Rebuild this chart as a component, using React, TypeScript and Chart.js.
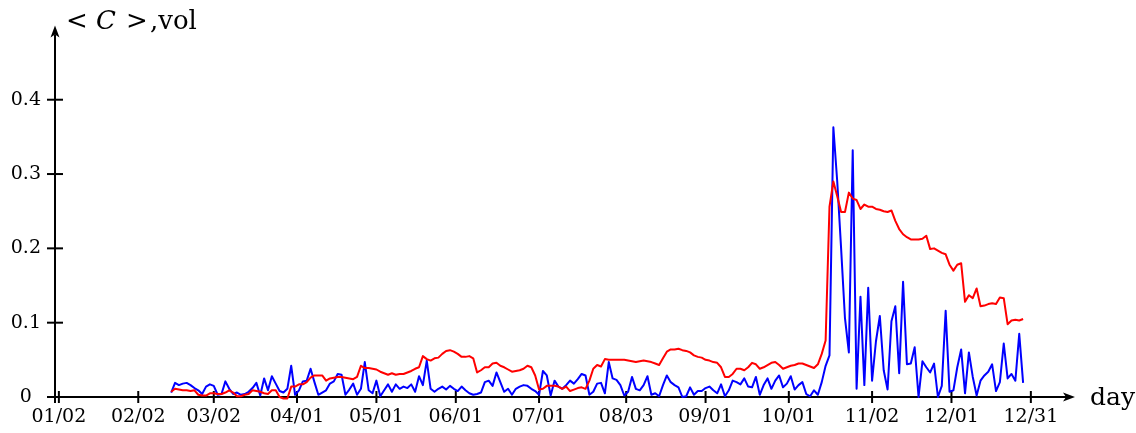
import React, { useEffect, useRef } from "react";
import { Chart, registerables } from "chart.js";

Chart.register(...registerables);

// first trading-day index (01/02 = 0) of the plotted series
const FIRST_DAY = 29;

// <C> (red)
const meanC = [
  0.007, 0.011, 0.010, 0.009, 0.009, 0.008, 0.009, 0.003, 0.002, 0.002, 0.005,
  0.005, 0.004, 0.004, 0.006, 0.009, 0.006, 0.001, 0.001, 0.003, 0.004,
  0.009, 0.008, 0.007, 0.005, 0.004, 0.009, 0.009, 0.000, -0.002, -0.002,
  0.014, 0.014, 0.017, 0.017, 0.020, 0.026, 0.029, 0.029, 0.029, 0.022,
  0.025, 0.026, 0.027, 0.027, 0.026, 0.025, 0.024, 0.027, 0.042, 0.039,
  0.039, 0.038, 0.037, 0.034, 0.032, 0.030, 0.032, 0.030, 0.031, 0.031,
  0.033, 0.035, 0.038, 0.040, 0.055, 0.051, 0.049, 0.052, 0.053, 0.058,
  0.062, 0.063, 0.061, 0.058, 0.054, 0.054, 0.055, 0.052, 0.033, 0.036,
  0.040, 0.040, 0.045, 0.046, 0.042, 0.040, 0.037, 0.034, 0.035, 0.036,
  0.038, 0.042, 0.040, 0.029, 0.010, 0.011, 0.015, 0.015, 0.015, 0.014,
  0.011, 0.014, 0.008, 0.010, 0.012, 0.013, 0.011, 0.022, 0.038, 0.043,
  0.041, 0.051, 0.050, 0.050, 0.050, 0.050, 0.050, 0.049, 0.048, 0.047,
  0.048, 0.049, 0.048, 0.047, 0.045, 0.043, 0.052, 0.061, 0.064, 0.064,
  0.065, 0.063, 0.062, 0.060, 0.056, 0.054, 0.053, 0.050, 0.049, 0.047,
  0.046, 0.040, 0.027, 0.027, 0.031, 0.038, 0.038, 0.036, 0.040, 0.046,
  0.044, 0.038, 0.040, 0.043, 0.046, 0.047, 0.043, 0.038, 0.040, 0.042,
  0.043, 0.045, 0.045, 0.043, 0.041, 0.039, 0.044, 0.058, 0.076, 0.256,
  0.290, 0.270, 0.249, 0.249, 0.275, 0.267, 0.265, 0.253, 0.259, 0.256,
  0.256, 0.253, 0.252, 0.250, 0.249, 0.251, 0.237, 0.226, 0.219, 0.215,
  0.212, 0.212, 0.212, 0.213, 0.217, 0.199, 0.200, 0.197, 0.194, 0.192,
  0.178, 0.170, 0.178, 0.180, 0.128, 0.137, 0.133, 0.146, 0.122, 0.123,
  0.125, 0.126, 0.125, 0.134, 0.133, 0.098, 0.103, 0.104, 0.103, 0.105,
];

// vol (blue)
const vol = [
  0.006, 0.019, 0.016, 0.018, 0.019, 0.016, 0.012, 0.009, 0.004, 0.014, 0.017,
  0.015, 0.003, 0.004, 0.021, 0.011, 0.004, 0.006, 0.003, 0.004, 0.007,
  0.012, 0.019, 0.002, 0.025, 0.009, 0.028, 0.018, 0.008, 0.006, 0.011,
  0.042, 0.003, 0.009, 0.021, 0.022, 0.038, 0.020, 0.003, 0.006, 0.009,
  0.018, 0.021, 0.031, 0.030, 0.003, 0.010, 0.018, 0.003, 0.011, 0.047,
  0.009, 0.005, 0.022, 0.001, 0.009, 0.017, 0.007, 0.017, 0.011, 0.014,
  0.012, 0.017, 0.007, 0.028, 0.016, 0.049, 0.011, 0.007, 0.011, 0.014,
  0.010, 0.015, 0.011, 0.008, 0.014, 0.009, 0.005, 0.003, 0.004, 0.006,
  0.020, 0.022, 0.015, 0.033, 0.020, 0.007, 0.011, 0.003, 0.011, 0.014,
  0.016, 0.015, 0.011, 0.008, 0.003, 0.035, 0.029, 0.002, 0.022, 0.014,
  0.011, 0.016, 0.022, 0.018, 0.024, 0.031, 0.029, 0.003, 0.007, 0.018,
  0.019, 0.005, 0.047, 0.025, 0.023, 0.016, 0.002, 0.007, 0.027, 0.011,
  0.009, 0.016, 0.028, 0.003, 0.005, 0.001, 0.016, 0.029, 0.020, 0.016,
  0.013, 0.000, 0.001, 0.013, 0.003, 0.008, 0.008, 0.012, 0.014, 0.009,
  0.005, 0.017, 0.001, 0.009, 0.022, 0.020, 0.017, 0.025, 0.014, 0.013,
  0.027, 0.003, 0.016, 0.025, 0.011, 0.022, 0.029, 0.013, 0.018, 0.028,
  0.010, 0.016, 0.020, 0.004, 0.001, 0.009, 0.003, 0.020, 0.042, 0.056,
  0.363, 0.290, 0.200, 0.106, 0.060, 0.332, 0.011, 0.135, 0.016, 0.147,
  0.022, 0.075, 0.109, 0.036, 0.010, 0.102, 0.122, 0.032, 0.155, 0.044,
  0.045, 0.067, 0.000, 0.048, 0.040, 0.033, 0.045, 0.000, 0.015, 0.116,
  0.007, 0.009, 0.040, 0.064, 0.005, 0.060, 0.027, 0.002, 0.022, 0.029,
  0.034, 0.044, 0.008, 0.020, 0.072, 0.025, 0.031, 0.022, 0.085, 0.019,
];

// x ticks (trading-day index) and their labels
const xTickDays = [0, 20.5, 40, 61.5, 82, 102.5, 124, 146.5, 167, 188.5, 210, 230.5, 251];
const xTickLabels = [
  "01/02", "02/02", "03/02", "04/01", "05/01", "06/01", "07/01",
  "08/03", "09/01", "10/01", "11/02", "12/01", "12/31",
];
const yTickValues = [0, 0.1, 0.2, 0.3, 0.4];

const X_MIN = -1;
const X_MAX = 262.4;
const Y_MIN = 0;
const Y_MAX = 0.5;

const FONT = '"DejaVu Serif", serif';

function arrowHead(ctx: CanvasRenderingContext2D, tx: number, ty: number, dir: "right" | "up") {
  const L = 12;
  const W = 4.5;
  const B = 9;
  ctx.beginPath();
  if (dir === "right") {
    ctx.moveTo(tx, ty);
    ctx.lineTo(tx - L, ty - W);
    ctx.lineTo(tx - B, ty);
    ctx.lineTo(tx - L, ty + W);
  } else {
    ctx.moveTo(tx, ty);
    ctx.lineTo(tx - W, ty + L);
    ctx.lineTo(tx, ty + B);
    ctx.lineTo(tx + W, ty + L);
  }
  ctx.closePath();
  ctx.fill();
}

const axesPlugin = {
  id: "texAxes",
  beforeDatasetsDraw(chart: any) {
    const { ctx, chartArea, scales } = chart;
    const xs = scales.x;
    const ys = scales.y;
    const y0 = ys.getPixelForValue(0);
    const xl = chartArea.left;
    const xr = chartArea.right;
    const yt = chartArea.top;
    ctx.save();
    ctx.strokeStyle = "#000";
    ctx.fillStyle = "#000";
    ctx.lineWidth = 2;
    ctx.lineCap = "butt";
    // x axis
    ctx.beginPath();
    ctx.moveTo(xl - 8, y0);
    ctx.lineTo(xr - 9, y0);
    ctx.stroke();
    arrowHead(ctx, xr, y0, "right");
    // y axis
    ctx.beginPath();
    ctx.moveTo(xl, y0 + 6);
    ctx.lineTo(xl, yt + 9);
    ctx.stroke();
    arrowHead(ctx, xl, yt, "up");
    // x tick marks
    xTickDays.forEach((d) => {
      const px = xs.getPixelForValue(d);
      ctx.beginPath();
      ctx.moveTo(px, y0 - 6);
      ctx.lineTo(px, y0 + 6);
      ctx.stroke();
    });
    // y tick marks
    yTickValues.forEach((v) => {
      if (v === 0) return;
      const py = ys.getPixelForValue(v);
      ctx.beginPath();
      ctx.moveTo(xl - 8, py);
      ctx.lineTo(xl + 8, py);
      ctx.stroke();
    });
    ctx.restore();
  },
  afterDraw(chart: any) {
    const { ctx } = chart;
    ctx.save();
    ctx.fillStyle = "#000";
    ctx.textBaseline = "alphabetic";
    ctx.textAlign = "left";
    ctx.font = `26px ${FONT}`;
    ctx.fillText("<", 66, 29);
    ctx.font = `italic 26px ${FONT}`;
    ctx.fillText("C", 96, 29);
    ctx.font = `26px ${FONT}`;
    ctx.fillText(">", 126, 29);
    ctx.fillText(",vol", 150, 29);
    ctx.font = `25px ${FONT}`;
    ctx.fillText("day", 1090, 405);
    ctx.restore();
  },
};

export default function App() {
  const ref = useRef<HTMLCanvasElement | null>(null);

  useEffect(() => {
    if (!ref.current) return;
    const chart = new Chart(ref.current, {
      type: "line",
      data: {
        datasets: [
          {
            label: "<C>",
            data: meanC.map((v, i) => ({ x: FIRST_DAY + i, y: v })),
            borderColor: "#ff0000",
            borderWidth: 2,
            pointRadius: 0,
            tension: 0,
            fill: false,
            borderJoinStyle: "round",
            clip: false,
          },
          {
            label: "vol",
            data: vol.map((v, i) => ({ x: FIRST_DAY + i, y: v })),
            borderColor: "#0000ff",
            borderWidth: 2,
            pointRadius: 0,
            tension: 0,
            fill: false,
            borderJoinStyle: "round",
            clip: false,
          },
        ],
      },
      options: {
        animation: false,
        responsive: false,
        devicePixelRatio: 1,
        layout: { padding: { left: 0, top: 19, right: 61, bottom: 0 } },
        plugins: {
          legend: { display: false },
          tooltip: { enabled: false },
          title: { display: false },
        },
        scales: {
          x: {
            type: "linear",
            min: X_MIN,
            max: X_MAX,
            afterFit: (s: any) => {
              s.height = 36;
            },
            afterBuildTicks: (s: any) => {
              s.ticks = xTickDays.map((v) => ({ value: v }));
            },
            ticks: {
              autoSkip: false,
              maxRotation: 0,
              minRotation: 0,
              padding: 9,
              color: "#000",
              font: { family: FONT, size: 19 },
              callback: (_v: any, i: number) => xTickLabels[i],
            },
            grid: { display: false, drawTicks: false },
            border: { display: false },
          },
          y: {
            type: "linear",
            min: Y_MIN,
            max: Y_MAX,
            afterFit: (s: any) => {
              s.width = 55;
            },
            afterBuildTicks: (s: any) => {
              s.ticks = yTickValues.map((v) => ({ value: v }));
            },
            ticks: {
              padding: 14,
              crossAlign: "center",
              color: "#000",
              font: { family: FONT, size: 19 },
              callback: (v: any) => (Number(v) === 0 ? "0" : Number(v).toFixed(1)),
            },
            grid: { display: false, drawTicks: false },
            border: { display: false },
          },
        },
      } as any,
      plugins: [axesPlugin],
    });
    return () => chart.destroy();
  }, []);

  return (
    <div
      style={{
        position: "fixed",
        left: 0,
        top: 0,
        width: 1136,
        height: 433,
        background: "#fff",
      }}
    >
      <canvas ref={ref} width={1136} height={433} style={{ width: 1136, height: 433, display: "block" }} />
    </div>
  );
}
